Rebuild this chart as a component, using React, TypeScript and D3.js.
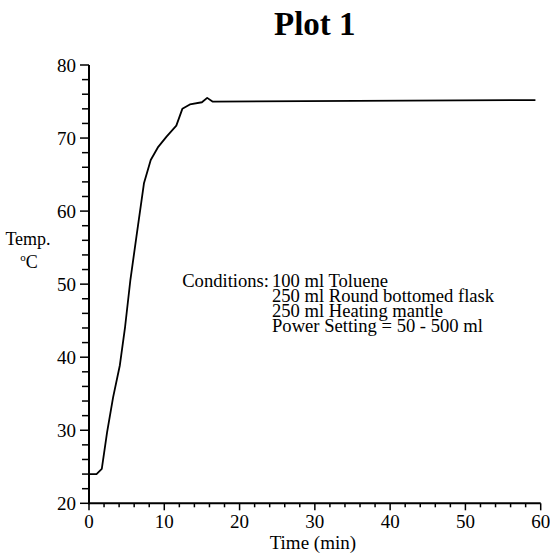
import React from "react";
import * as d3 from "d3";

const timeMin = [0, 1.0, 1.7, 2.4, 3.2, 4.1, 4.8, 5.5, 6.3, 7.3, 8.2, 9.2, 10.3, 11.6, 12.4, 13.4, 15.0, 15.7, 16.4, 59.3];
const tempC = [24, 24, 24.7, 29.7, 34.5, 38.9, 44.2, 50.6, 56.5, 63.8, 67.0, 68.8, 70.2, 71.7, 74.0, 74.6, 74.9, 75.5, 75.0, 75.2];
const xMajorTicks = [0, 10, 20, 30, 40, 50, 60];
const yMajorTicks = [20, 30, 40, 50, 60, 70, 80];
const conditionLines = ["100 ml Toluene", "250 ml Round bottomed flask", "250 ml Heating mantle", "Power Setting = 50 - 500 ml"];
const titleText = "Plot 1";

const FONT = "'Liberation Serif', 'Times New Roman', serif";

export default function App() {
  const W = 550, H = 558;
  const x = d3.scaleLinear().domain([0, 60]).range([89, 540.7]);
  const y = d3.scaleLinear().domain([20, 80]).range([503.3, 65]);
  const xMinor = d3.range(0, 61, 2).filter((v) => v % 10 !== 0);
  const yMinor = d3.range(20, 81, 2).filter((v) => v % 10 !== 0);
  const line = d3
    .line<number>()
    .x((_, i) => x(timeMin[i]))
    .y((d) => y(d));
  const path = line(tempC) || "";
  const x0 = x(0), y0 = y(20);
  return (
    <svg width={W} height={H} style={{ position: "absolute", left: 0, top: 0, background: "#fff" }} fontFamily={FONT}>
      <rect width={W} height={H} fill="#fff" />
      <text x={(x(0) + x(60)) / 2} y={35} textAnchor="middle" fontSize={33} fontWeight="bold">{titleText}</text>
      {/* axes */}
      <line x1={x0} x2={x0} y1={y(80)} y2={y0 + 1} stroke="#000" strokeWidth={2} />
      <line x1={x0 - 1} x2={x(60)} y1={y0} y2={y0} stroke="#000" strokeWidth={2} />
      {yMajorTicks.map((v) => (
        <g key={"ym" + v}>
          <line x1={x0 - 9} x2={x0} y1={y(v)} y2={y(v)} stroke="#000" strokeWidth={1.5} />
          <text x={x0 - 13} y={y(v) + 7} textAnchor="end" fontSize={19}>{v}</text>
        </g>
      ))}
      {yMinor.map((v) => (
        <line key={"yn" + v} x1={x0 - 7} x2={x0} y1={y(v)} y2={y(v)} stroke="#000" strokeWidth={1.5} />
      ))}
      {xMajorTicks.map((v) => (
        <g key={"xm" + v}>
          <line x1={x(v)} x2={x(v)} y1={y0} y2={y0 + 7} stroke="#000" strokeWidth={1.5} />
          <text x={x(v)} y={528} textAnchor="middle" fontSize={19}>{v}</text>
        </g>
      ))}
      {xMinor.map((v) => (
        <line key={"xn" + v} x1={x(v)} x2={x(v)} y1={y0} y2={y0 + 4} stroke="#000" strokeWidth={1.5} />
      ))}
      <text x={x(30) - 2} y={549} textAnchor="middle" fontSize={19}>Time (min)</text>
      <text x={28} y={245} textAnchor="middle" fontSize={18}>Temp.</text>
      <text x={29} y={268} textAnchor="middle" fontSize={18}>
        <tspan fontSize={11} dy={-7}>o</tspan>
        <tspan dy={7}>C</tspan>
      </text>
      {/* curve */}
      <path d={path} fill="none" stroke="#000" strokeWidth={1.8} strokeLinejoin="round" />
      {/* conditions */}
      <text x={269} y={287} textAnchor="end" fontSize={18.6}>Conditions:</text>
      {conditionLines.map((t, i) => (
        <text key={t} x={272} y={287 + i * 15} fontSize={18.6}>{t}</text>
      ))}
    </svg>
  );
}
